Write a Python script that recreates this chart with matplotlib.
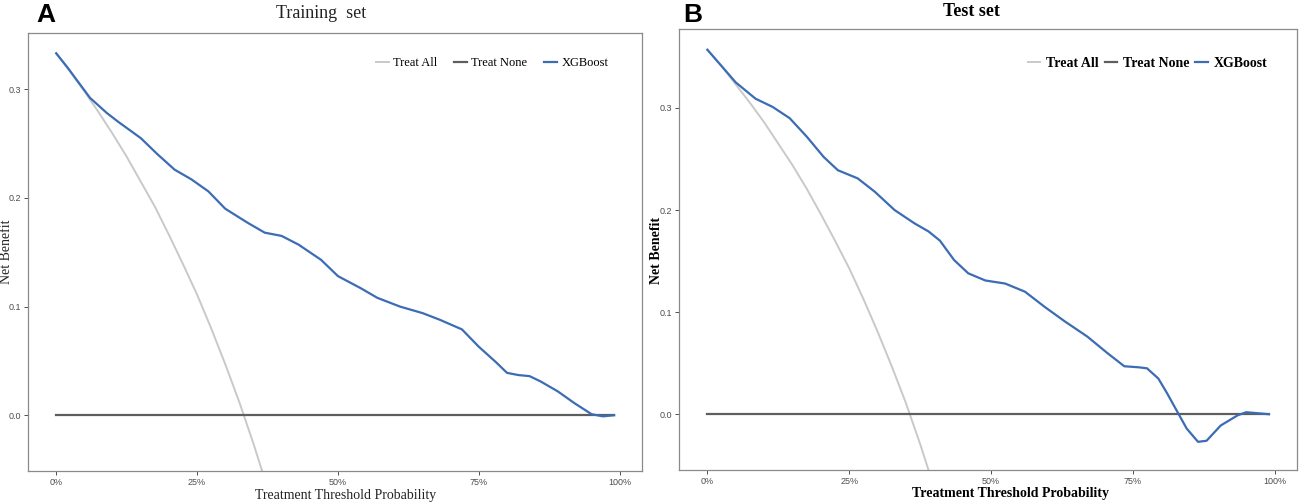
import matplotlib
matplotlib.use("Agg")
import matplotlib.pyplot as plt

# Decision curve data
# reference lines
all_thresh = [0, 0.025, 0.05, 0.075, 0.1, 0.125, 0.15, 0.175, 0.2, 0.225,
              0.25, 0.275, 0.3, 0.325, 0.35, 0.375, 0.4]
train_treat_all = [0.333, 0.316, 0.298, 0.279, 0.259, 0.238, 0.215, 0.192, 0.166,
                   0.139, 0.111, 0.080, 0.047, 0.012, -0.026, -0.067, -0.112]
test_treat_all = [0.357, 0.341, 0.323, 0.305, 0.286, 0.265, 0.244, 0.221, 0.196,
                  0.170, 0.143, 0.113, 0.081, 0.047, 0.011, -0.029, -0.072]
none_thresh = [0, 0.99]
treat_none = [0, 0]

# XGBoost, training set
train_thresh = [0.00, 0.02, 0.04, 0.06, 0.09, 0.11, 0.15, 0.18, 0.21, 0.24, 0.27, 0.30,
                0.34, 0.37, 0.40, 0.43, 0.47, 0.50, 0.54, 0.57, 0.61, 0.65, 0.68,
                0.72, 0.75, 0.78, 0.80, 0.82, 0.84, 0.86, 0.89, 0.92, 0.95, 0.97, 0.99]
train_xgb = [0.333, 0.320, 0.306, 0.292, 0.278, 0.270, 0.255, 0.240, 0.226, 0.217, 0.206,
             0.190, 0.177, 0.168, 0.165, 0.157, 0.143, 0.128, 0.117, 0.108, 0.100, 0.094,
             0.088, 0.079, 0.063, 0.049, 0.039, 0.037, 0.036, 0.031, 0.022, 0.011, 0.001,
             -0.001, 0.000]

# XGBoost, test set
test_thresh = [0.00, 0.025, 0.05, 0.085, 0.115, 0.145, 0.175, 0.205, 0.23, 0.265, 0.295,
               0.33, 0.365, 0.39, 0.41, 0.435, 0.46, 0.49, 0.525, 0.56, 0.595, 0.63,
               0.67, 0.705, 0.735, 0.76, 0.775, 0.795, 0.81, 0.83, 0.845, 0.865, 0.88,
               0.905, 0.935, 0.95, 0.97, 0.99]
test_xgb = [0.357, 0.341, 0.325, 0.309, 0.301, 0.290, 0.272, 0.252, 0.239, 0.231, 0.218,
            0.200, 0.187, 0.179, 0.170, 0.151, 0.138, 0.131, 0.128, 0.120, 0.105, 0.091,
            0.076, 0.060, 0.047, 0.046, 0.045, 0.035, 0.021, 0.001, -0.014, -0.027, -0.026,
            -0.011, -0.001, 0.002, 0.001, 0.000]

x_ticks = [0, 0.25, 0.5, 0.75, 1.0]
x_labels = ["0%", "25%", "50%", "75%", "100%"]
y_ticks = [0.0, 0.1, 0.2, 0.3]
y_labels = ["0.0", "0.1", "0.2", "0.3"]

col_all = "#c9c9c9"
col_none = "#5e5e5e"
col_xgb = "#3b6cb4"

plt.rcParams["font.family"] = ["Liberation Serif", "DejaVu Serif"]

W, H = 1299, 504
fig = plt.figure(figsize=(W / 100, H / 100), dpi=100)


def px_axes(left, top, right, bottom):
    return fig.add_axes([left / W, 1 - bottom / H, (right - left) / W, (bottom - top) / H])


def draw_panel(ax, thresh, xgb, treat_all, ylim, weight, leg_size, leg_pos, leg_opts):
    ax.plot(all_thresh, treat_all, color=col_all, lw=1.4, label="Treat All")
    ax.plot(none_thresh, treat_none, color=col_none, lw=1.6, label="Treat None")
    ax.plot(thresh, xgb, color=col_xgb, lw=1.6, label="XGBoost")
    ax.set_xlim(-0.0495, 1.0395)
    ax.set_ylim(*ylim)
    ax.set_xticks(x_ticks)
    ax.set_xticklabels(x_labels)
    ax.set_yticks(y_ticks)
    ax.set_yticklabels(y_labels)
    for lab in ax.get_xticklabels() + ax.get_yticklabels():
        lab.set_family(["Liberation Sans", "DejaVu Sans"])
        lab.set_fontsize(6.5)
        lab.set_color("#4d4d4d")
    ax.tick_params(length=3, width=0.6, color="#333333", pad=2)
    for sp in ax.spines.values():
        sp.set_color("#8a8a8a")
        sp.set_linewidth(0.9)
    ax.legend(loc="center right", bbox_to_anchor=leg_pos, ncol=3, frameon=False,
              borderpad=0, borderaxespad=0,
              prop={"family": ["Liberation Serif"], "size": leg_size, "weight": weight},
              **leg_opts)


# Panel A - training set
ax1 = px_axes(28.3, 33.3, 642, 470.7)
draw_panel(ax1, train_thresh, train_xgb, train_treat_all, (-0.051, 0.3514), "normal", 9,
           (0.945, 0.932), dict(handlelength=1.05, handletextpad=0.35, columnspacing=1.3))

# Panel B - test set
ax2 = px_axes(679.3, 29.3, 1297, 470)
draw_panel(ax2, test_thresh, test_xgb, test_treat_all, (-0.0546, 0.377), "bold", 10,
           (0.953, 0.9235), dict(handlelength=0.9, handletextpad=0.45, columnspacing=0.4))

# titles and axis labels
fig.text(321 / W, 1 - 13 / H, "Training  set", fontsize=13, color="#222222",
         ha="center", va="center")
fig.text(971 / W, 1 - 11 / H, "Test set", fontsize=13, weight="bold",
         ha="center", va="center")
fig.text(346 / W, 1 - 496 / H, "Treatment Threshold Probability", fontsize=10,
         color="#222222", ha="center", va="center")
fig.text(1011 / W, 1 - 494 / H, "Treatment Threshold Probability", fontsize=10,
         weight="bold", ha="center", va="center")
fig.text(7 / W, 1 - 252 / H, "Net Benefit", fontsize=10, color="#222222",
         rotation=90, ha="center", va="center")
fig.text(656 / W, 1 - 250 / H, "Net Benefit", fontsize=10, weight="bold",
         rotation=90, ha="center", va="center")

# panel letters
fig.text(36 / W, 1 - 14.5 / H, "A", fontsize=19, weight="bold",
         family=["Liberation Sans", "DejaVu Sans"], ha="left", va="center")
fig.text(683 / W, 1 - 14.5 / H, "B", fontsize=19, weight="bold",
         family=["Liberation Sans", "DejaVu Sans"], ha="left", va="center")

fig.savefig("out.png", dpi=100)
